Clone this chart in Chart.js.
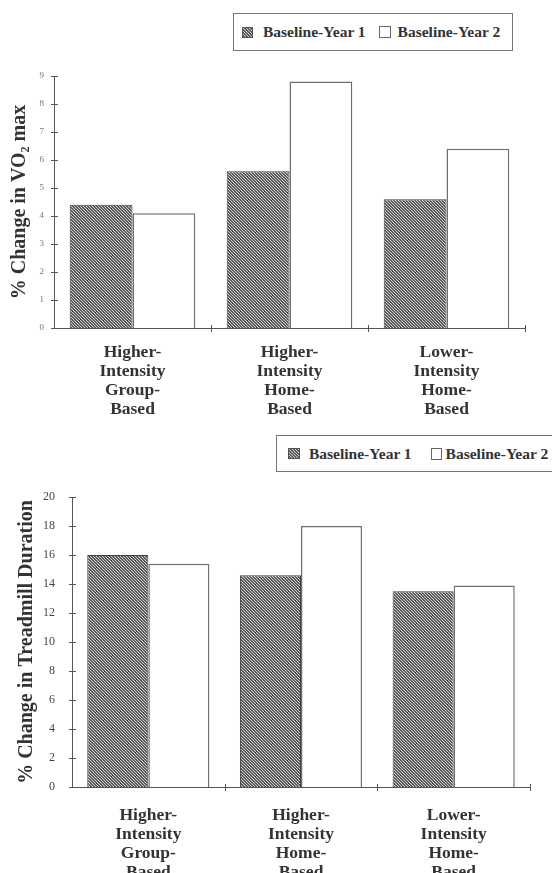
<!DOCTYPE html>
<html>
<head>
<meta charset="utf-8">
<script src="https://cdn.jsdelivr.net/npm/chart.js@4/dist/chart.umd.min.js"></script>
<style>
  html, body { margin: 0; padding: 0; background: #fff; }
  #page { position: relative; width: 552px; height: 873px; overflow: hidden; background: #fff; }
  .panel { position: absolute; left: 0; width: 552px; }
  .legend {
    position: absolute; box-sizing: border-box; display: flex; align-items: center;
    border: 1.5px solid #777; background: #fff;
    font-family: "Liberation Serif", "Times New Roman", serif; font-weight: bold;
    font-size: 15.5px; color: #333; white-space: nowrap;
  }
  .sw { display: inline-block; box-sizing: border-box; flex: none; }
  .sw.blank { background: #fff; border: 1.2px solid #666; }
  .sw.hatch { border: 1px solid #555; background-repeat: repeat; }
</style>
</head>
<body>
<div id="page">
  <div class="panel" style="top:0;height:436px"><canvas id="vo2"></canvas></div>
  <div class="panel" style="top:436px;height:437px"><canvas id="treadmill"></canvas></div>
  <div class="legend" id="legendTop" style="left:233px;top:13px;width:280px;height:38px"></div>
  <div class="legend" id="legendBottom" style="left:276px;top:435px;width:300px;height:37px"></div>
</div>
<script>
// Training groups (category axis labels, one line per entry)
const categories = [
  ['Higher-', 'Intensity', 'Group-', 'Based'],
  ['Higher-', 'Intensity', 'Home-', 'Based'],
  ['Lower-', 'Intensity', 'Home-', 'Based']
];
const seriesNames = ['Baseline-Year 1', 'Baseline-Year 2'];

// % change in VO2 max
const vo2Year1 = [4.4, 5.6, 4.6];
const vo2Year2 = [4.1, 8.8, 6.4];

// % change in treadmill duration
const treadmillYear1 = [16.0, 14.6, 13.5];
const treadmillYear2 = [15.4, 18.0, 13.9];

// y-axis tick values
const vo2Ticks = [0, 1, 2, 3, 4, 5, 6, 7, 8, 9];
const treadmillTicks = [0, 2, 4, 6, 8, 10, 12, 14, 16, 18, 20];

const SERIF = '"Liberation Serif", "Times New Roman", serif';
const INK = '#333';

// Diagonal hatch tile: light "\" stripes on dark grey
function makeHatchTile() {
  const c = document.createElement('canvas');
  c.width = 3; c.height = 3;
  const g = c.getContext('2d');
  const img = g.createImageData(3, 3);
  for (let y = 0; y < 3; y++) {
    for (let x = 0; x < 3; x++) {
      const v = ((x - y + 3) % 3 === 0) ? 205 : 92;
      const k = (y * 3 + x) * 4;
      img.data[k] = img.data[k + 1] = img.data[k + 2] = v;
      img.data[k + 3] = 255;
    }
  }
  g.putImageData(img, 0, 0);
  return c;
}
const hatchTile = makeHatchTile();
const hatchFill = document.createElement('canvas').getContext('2d').createPattern(hatchTile, 'repeat');

// Small tick marks that cross both axis lines
const crossTicks = {
  id: 'crossTicks',
  afterDatasetsDraw(chart, args, opts) {
    const { ctx } = chart;
    const xs = chart.scales.x, ys = chart.scales.y;
    ctx.save();
    ctx.strokeStyle = opts.color || '#555';
    ctx.lineWidth = 1;
    ctx.beginPath();
    ys.ticks.forEach((t, i) => {
      const py = Math.round(ys.getPixelForTick(i)) + 0.5;
      ctx.moveTo(ys.right - 3, py);
      ctx.lineTo(ys.right + 4, py);
    });
    for (let i = 1; i <= xs.ticks.length; i++) {
      const px = Math.round(xs.getPixelForValue(i - 0.5)) + 0.5;
      ctx.moveTo(px, xs.top - 3);
      ctx.lineTo(px, xs.top + 4);
    }
    ctx.stroke();
    ctx.restore();
  }
};

function buildLegend(el, cfg) {
  seriesNames.forEach((name, i) => {
    const sw = document.createElement('span');
    sw.className = 'sw ' + (i === 0 ? 'hatch' : 'blank');
    sw.style.width = cfg.sw[i][0] + 'px';
    sw.style.height = cfg.sw[i][1] + 'px';
    sw.style.marginLeft = cfg.gapBefore[i] + 'px';
    if (i === 0) sw.style.backgroundImage = 'url(' + hatchTile.toDataURL() + ')';
    const tx = document.createElement('span');
    tx.textContent = name;
    tx.style.marginLeft = cfg.gapText[i] + 'px';
    el.appendChild(sw);
    el.appendChild(tx);
  });
}

function makeChart(id, y1, y2, ticks, o) {
  return new Chart(document.getElementById(id), {
    type: 'bar',
    data: {
      labels: categories,
      datasets: [
        { label: seriesNames[0], data: y1, backgroundColor: hatchFill, borderColor: '#3e3e3e', borderWidth: 1 },
        { label: seriesNames[1], data: y2, backgroundColor: '#ffffff', borderColor: '#707070', borderWidth: 1.5 }
      ]
    },
    options: {
      responsive: true,
      maintainAspectRatio: false,
      animation: false,
      events: [],
      layout: { padding: o.padding },
      plugins: {
        legend: { display: false },
        tooltip: { enabled: false },
        crossTicks: { color: '#555' }
      },
      datasets: { bar: { categoryPercentage: 0.8, barPercentage: 1.0 } },
      scales: {
        x: {
          grid: { display: false, drawTicks: false },
          border: { display: true, color: '#555', width: 1 },
          ticks: {
            autoSkip: false, maxRotation: 0, padding: o.xPad, color: INK,
            font: { family: SERIF, weight: 'bold', size: 17.5, lineHeight: '19px' }
          },
          afterFit: s => { s.height = o.xHeight; }
        },
        y: {
          min: ticks[0], max: ticks[ticks.length - 1],
          afterBuildTicks: s => { s.ticks = ticks.map(v => ({ value: v })); },
          grid: { display: false, drawTicks: false },
          border: { display: true, color: '#555', width: 1 },
          ticks: {
            padding: o.yPad, color: o.tickColor,
            font: { family: SERIF, size: o.tickSize }
          },
          title: {
            display: true, text: o.title, color: INK,
            font: { family: SERIF, weight: 'bold', size: 20, lineHeight: 1 },
            padding: { top: o.titlePad, bottom: 0 }
          },
          afterFit: s => { s.width = o.yWidth; }
        }
      }
    },
    plugins: [crossTicks]
  });
}

makeChart('vo2', vo2Year1, vo2Year2, vo2Ticks, {
  padding: { top: 76, right: 27, bottom: 0, left: 0 },
  xHeight: 108, xPad: 15, yWidth: 54, yPad: 10,
  tickColor: '#777', tickSize: 9,
  title: '% Change in VO\u2082 max', titlePad: 10
});

makeChart('treadmill', treadmillYear1, treadmillYear2, treadmillTicks, {
  padding: { top: 61, right: 22, bottom: 0, left: 0 },
  xHeight: 86, xPad: 19, yWidth: 72, yPad: 17,
  tickColor: '#444', tickSize: 12,
  title: '% Change in Treadmill Duration', titlePad: 17
});

buildLegend(document.getElementById('legendTop'), {
  sw: [[11, 11], [12, 12]], gapBefore: [8, 13], gapText: [10, 7]
});
buildLegend(document.getElementById('legendBottom'), {
  sw: [[12, 11], [11, 12]], gapBefore: [11, 19], gapText: [9, 4]
});
</script>
</body>
</html>
